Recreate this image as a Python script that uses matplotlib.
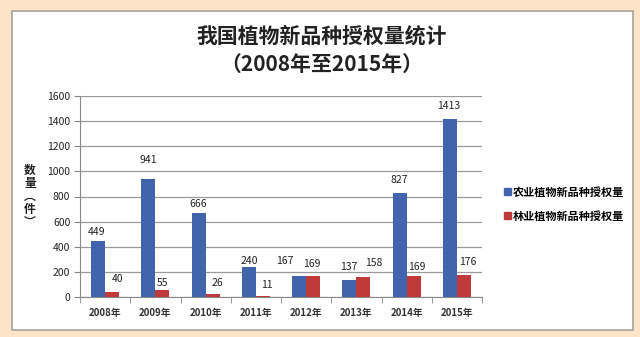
import matplotlib.pyplot as plt
import matplotlib.patches as mpatches
import numpy as np

plt.rcParams['font.family'] = ['Noto Sans CJK SC', 'DejaVu Sans']

years = ["2008年", "2009年", "2010年", "2011年", "2012年", "2013年", "2014年", "2015年"]
agri = [449, 941, 666, 240, 167, 137, 827, 1413]
forest = [40, 55, 26, 11, 169, 158, 169, 176]
series_names = ["农业植物新品种授权量", "林业植物新品种授权量"]

# label nudges in pixels (dx, dy) from the top centre of each bar
agri_off = [(-1, 9), (0, 19), (0, 9), (0, 6), (-14, 15), (-1, 13), (0, 13), (-1, 13)]
forest_off = [(5, 13), (0, 7), (5, 11), (4, 11), (-1, 12), (10, 14), (3, 9), (4, 13)]

blue = "#4164ad"
red = "#c03a3c"

fig = plt.figure(figsize=(6.4, 3.37), dpi=100)
fig.patch.set_facecolor("#fbe4c8")

# white panel behind the chart
panel = mpatches.Rectangle((12 / 640, 7 / 337), 621 / 640, 319 / 337,
                           transform=fig.transFigure, facecolor="white",
                           edgecolor="#a9a29a", linewidth=1.2, zorder=-10)
fig.patches.append(panel)

ax = fig.add_axes([80 / 640, 40 / 337, 402 / 640, 201 / 337])
ax.set_facecolor("none")
ax.set_zorder(1)

x = np.arange(len(years))
w = 0.28
b1 = ax.bar(x - w / 2, agri, w, color=blue, zorder=3)
b2 = ax.bar(x + w / 2, forest, w, color=red, zorder=3)

for bars, vals, offs in ((b1, agri, agri_off), (b2, forest, forest_off)):
    for bar, v, (dx, dy) in zip(bars, vals, offs):
        ax.annotate(str(v), (bar.get_x() + bar.get_width() / 2, v),
                    xytext=(dx, dy), textcoords="offset pixels",
                    ha="center", va="center", fontsize=7.5, color="#222222")

ax.set_ylim(0, 1600)
ax.set_yticks(range(0, 1601, 200))
ax.set_xlim(-0.5, len(years) - 0.5)
ax.yaxis.grid(True, color="#9a9a9a", linewidth=0.9, zorder=0)
ax.set_axisbelow(True)

ax.set_xticks(x)
ax.set_xticklabels(years, fontsize=7, fontweight="bold", color="#333333")
ax.set_xticks(np.arange(-0.5, len(years)), minor=True)
ax.tick_params(axis="x", which="major", length=0, pad=8)
ax.tick_params(axis="x", which="minor", length=4, color="#888888", direction="out")
ax.tick_params(axis="y", length=4, color="#888888", labelsize=7.5, labelcolor="#222222", pad=3)

for s in ("top", "right"):
    ax.spines[s].set_visible(False)
ax.spines["left"].set_color("#888888")
ax.spines["bottom"].set_color("#888888")

fig.text(30 / 640, 1 - 196 / 337, "数\n量\n︵\n件\n︶", ha="center", va="center",
         fontsize=8.5, fontweight="bold", linespacing=1.0, color="#222222")

fig.text(322 / 640, 1 - 36 / 337, "我国植物新品种授权量统计", ha="center", va="center",
         fontsize=15, fontweight="bold", color="#222222")
fig.text(322 / 640, 1 - 64 / 337, "（2008年至2015年）", ha="center", va="center",
         fontsize=15, fontweight="bold", color="#222222")

handles = [mpatches.Patch(color=blue), mpatches.Patch(color=red)]
fig.legend(handles, series_names, loc="center left",
           bbox_to_anchor=(494 / 640, 1 - 204 / 337), frameon=False,
           handlelength=0.6, handleheight=0.6, handletextpad=0.2,
           labelspacing=1.0, prop={"weight": "bold", "size": 8})

fig.savefig("out.png", dpi=100, facecolor=fig.get_facecolor())
